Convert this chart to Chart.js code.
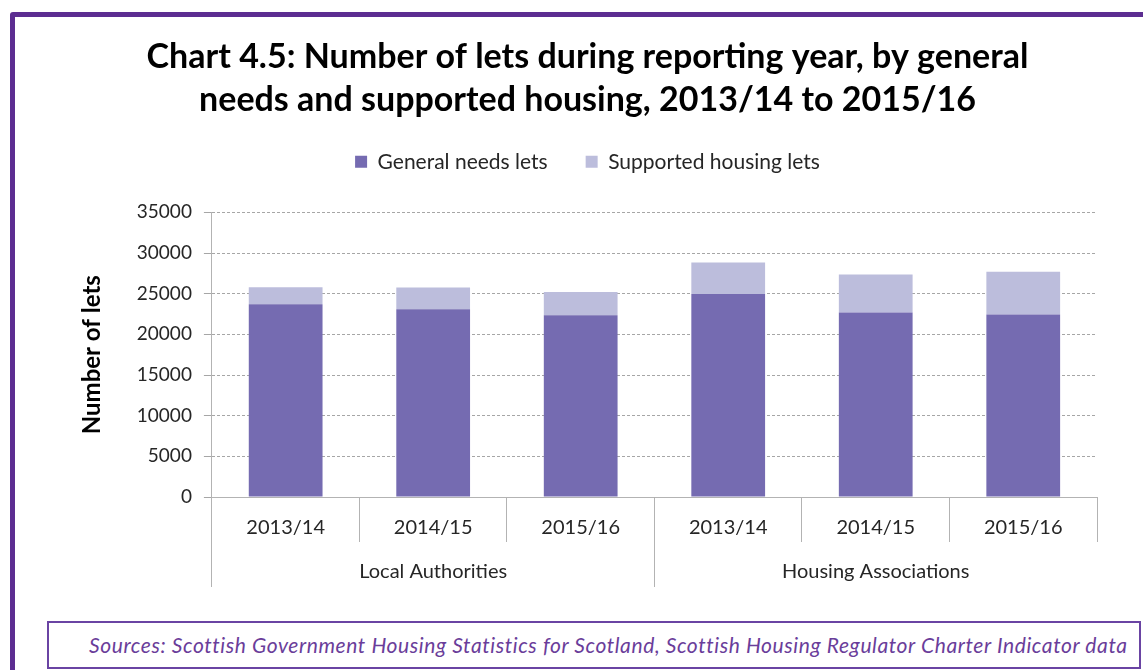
<!DOCTYPE html>
<html>
<head>
<meta charset="utf-8">
<script src="https://cdn.jsdelivr.net/npm/chart.js@4.4.0/dist/chart.umd.min.js"></script>
<style>
  body { margin: 0; overflow: hidden; background: #fff; font-family: Lato, sans-serif; }
  #frame { position: absolute; left: 10px; top: 12px; width: 1200px; height: 700px;
           border: 5px solid #5c2d91; border-radius: 3px; }
  #wrap { position: absolute; left: 16px; top: 17px; width: 1134px; height: 600px; }
  #source { position: absolute; left: 47px; top: 621px; width: 1090px; height: 44px;
            border: 2px solid #6a44a3;
            font: italic 21px Lato, sans-serif; letter-spacing: 0.6px; color: #6a3d9a;
            line-height: 44px; white-space: nowrap; }
  #source span { margin-left: 40px; }
</style>
</head>
<body>
<div id="frame"></div>
<div id="wrap"><canvas id="lets-chart"></canvas></div>
<div id="source"><span>Sources: Scottish Government Housing Statistics for Scotland, Scottish Housing Regulator Charter Indicator data</span></div>
<script>
// values
const years = ['2013/14', '2014/15', '2015/16', '2013/14', '2014/15', '2015/16'];
const groups = ['Local Authorities', 'Housing Associations'];
const generalNeeds = [23700, 23100, 22350, 24950, 22700, 22450];
const supported = [2100, 2650, 2850, 3900, 4650, 5250];

// group label sits under the middle year of each block of three
const groupLabels = ['', groups[0], '', '', groups[1], ''];

const axisGrey = '#b3b3b3';
const font = 'Lato';

const data = {
    labels: years,
    datasets: [
        {
            label: 'General needs lets',
            data: generalNeeds,
            backgroundColor: '#756bb1',
            borderWidth: 0
        },
        {
            label: 'Supported housing lets',
            data: supported,
            backgroundColor: '#bcbddc',
            borderWidth: 0
        }
    ]
};

// extra room between the legend and the plot
const legendGap = {
    id: 'legendGap',
    beforeInit(chart) {
        const fit = chart.legend.fit;
        chart.legend.fit = function () {
            fit.bind(this)();
            this.height += 30;
        };
    }
};

let ctx = document.getElementById('lets-chart').getContext('2d');

let letsChart = new Chart(ctx, {
    type: 'bar',
    data: data,
    plugins: [legendGap],
    options: {
        responsive: true,
        maintainAspectRatio: false,
        animation: false,
        categoryPercentage: 1,
        barPercentage: 0.5,
        layout: {
            padding: { left: 62, right: 53, bottom: 30, top: 0 }
        },
        plugins: {
            title: {
                display: true,
                text: ['Chart 4.5: Number of lets during reporting year, by general',
                       'needs and supported housing, 2013/14 to 2015/16'],
                color: '#000',
                font: { family: font, size: 34, weight: 'bold', lineHeight: 1.27 },
                padding: { top: 18, bottom: -8 }
            },
            legend: {
                position: 'top',
                labels: {
                    color: '#262626',
                    font: { family: font, size: 21 },
                    boxWidth: 12,
                    boxHeight: 12,
                    padding: 38
                }
            },
            tooltip: { enabled: false }
        },
        scales: {
            x: {
                stacked: true,
                offset: true,
                grid: {
                    offset: true,
                    drawOnChartArea: false,
                    color: axisGrey,
                    tickLength: 45
                },
                border: { display: true, color: axisGrey, width: 1 },
                ticks: {
                    color: '#262626',
                    font: { family: font, size: 20 },
                    padding: -26,
                    maxRotation: 0,
                    autoSkip: false
                },
                afterFit: (scale) => { scale.height = 43; }
            },
            x2: {
                type: 'category',
                labels: groupLabels,
                position: 'bottom',
                offset: true,
                grid: {
                    offset: true,
                    drawOnChartArea: false,
                    tickLength: 47,
                    color: (c) => (c.index % 3 === 0 ? axisGrey : 'rgba(0,0,0,0)')
                },
                border: { display: false },
                ticks: {
                    color: '#262626',
                    font: { family: font, size: 20 },
                    padding: -27,
                    maxRotation: 0,
                    autoSkip: false
                },
                afterFit: (scale) => { scale.height = 47; }
            },
            y: {
                stacked: true,
                min: 0,
                max: 35000,
                ticks: {
                    stepSize: 5000,
                    color: '#262626',
                    font: { family: font, size: 19 },
                    padding: 12,
                    callback: (v) => String(v)
                },
                grid: {
                    color: '#a6a6a6',
                    tickLength: 8
                },
                border: { display: true, color: axisGrey, dash: [3, 2] },
                title: {
                    display: true,
                    text: 'Number of lets',
                    color: '#000',
                    font: { family: font, size: 24, weight: 'bold' },
                    padding: { top: 0, bottom: 18 }
                }
            }
        }
    }
});
</script>
</body>
</html>
